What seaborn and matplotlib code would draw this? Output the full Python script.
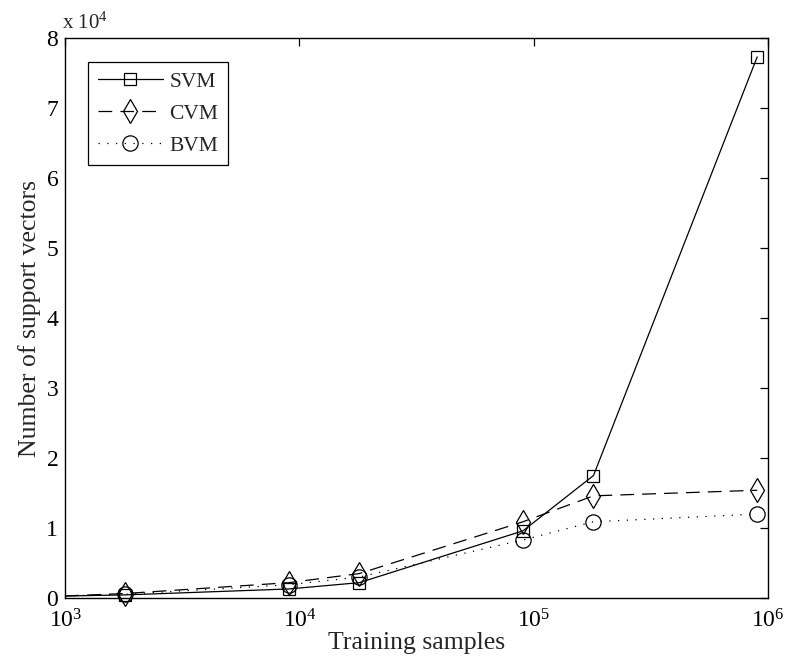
import numpy as np
import pandas as pd
import matplotlib
matplotlib.use("Agg")
import matplotlib.pyplot as plt
import seaborn as sns
from matplotlib.lines import Line2D
from matplotlib.ticker import FixedLocator, FuncFormatter, NullLocator

samples = [1000, 1800, 9000, 18000, 90000, 180000, 900000]
svm = [300, 450, 1300, 2200, 9600, 17500, 77300]
cvm = [300, 650, 2200, 3500, 10900, 14600, 15400]
bvm = [300, 550, 1900, 3000, 8300, 10900, 12000]
series_names = ["SVM", "CVM", "BVM"]
x_ticks = [1e3, 1e4, 1e5, 1e6]
y_ticks = [0, 10000, 20000, 30000, 40000, 50000, 60000, 70000, 80000]

sns.set_style("white")
plt.rcParams["font.family"] = ["Liberation Serif", "DejaVu Serif"]
plt.rcParams["mathtext.fontset"] = "custom"
plt.rcParams["mathtext.rm"] = "Liberation Serif"
plt.rcParams["mathtext.it"] = "Liberation Serif:italic"

fig = plt.figure(figsize=(7.86, 6.66), dpi=100)
ax = fig.add_axes([0.083, 0.102, 0.894, 0.841])

df = pd.DataFrame({"x": samples * 3,
                   "y": svm + cvm + bvm,
                   "method": sum([[n] * len(samples) for n in series_names], [])})

styles = {
    "SVM": dict(marker="s", ms=8.5, ls="-"),
    "CVM": dict(marker="d", ms=12, ls=(0, (11, 6.5))),
    "BVM": dict(marker="o", ms=11, ls=(0, (1, 6))),
}
handles = []
for name in series_names:
    sub = df[df["method"] == name]
    st = styles[name]
    kw = dict(color="black", lw=0.9, linestyle=st["ls"], marker=st["marker"],
              markersize=st["ms"], markerfacecolor="none", markeredgecolor="black",
              markeredgewidth=0.9)
    sns.lineplot(data=sub, x="x", y="y", ax=ax, markevery=list(range(1, len(samples))),
                 clip_on=False, legend=False, **kw)
    handles.append(Line2D([], [], label=name, **kw))

ax.set_xscale("log")
ax.set_xlim(1e3, 1e6)
ax.set_ylim(0, 80000)
ax.xaxis.set_major_locator(FixedLocator(x_ticks))
ax.xaxis.set_minor_locator(NullLocator())
ax.xaxis.set_major_formatter(FuncFormatter(lambda v, p: r"$\mathregular{10^{%d}}$" % round(np.log10(v))))
ax.yaxis.set_major_locator(FixedLocator(y_ticks))
ax.yaxis.set_major_formatter(FuncFormatter(lambda v, p: "%d" % round(v / 1e4)))
ax.tick_params(direction="in", length=6, width=0.9, labelsize=17, top=True, right=True,
               colors="black")
ax.tick_params(axis="x", pad=8)
ax.tick_params(axis="y", pad=5)
for s in ax.spines.values():
    s.set_visible(True)
    s.set_color("black")
    s.set_linewidth(1.0)

ax.set_xlabel("Training samples", fontsize=18.5, labelpad=0)
ax.set_ylabel("Number of support vectors", fontsize=18.5, labelpad=4)
ax.text(-0.004, 1.008, r"x $\mathregular{10^{4}}$", transform=ax.transAxes, fontsize=15,
        ha="left", va="bottom")

leg = ax.legend(handles=handles, loc="upper left", bbox_to_anchor=(0.033, 0.957),
                fontsize=15.5, frameon=True, numpoints=1,
                fancybox=False, edgecolor="black", framealpha=1, handlelength=3.0,
                borderpad=0.45, labelspacing=0.55, handletextpad=0.3, borderaxespad=0)
leg.get_frame().set_linewidth(0.9)

fig.savefig("out.png", dpi=100)
